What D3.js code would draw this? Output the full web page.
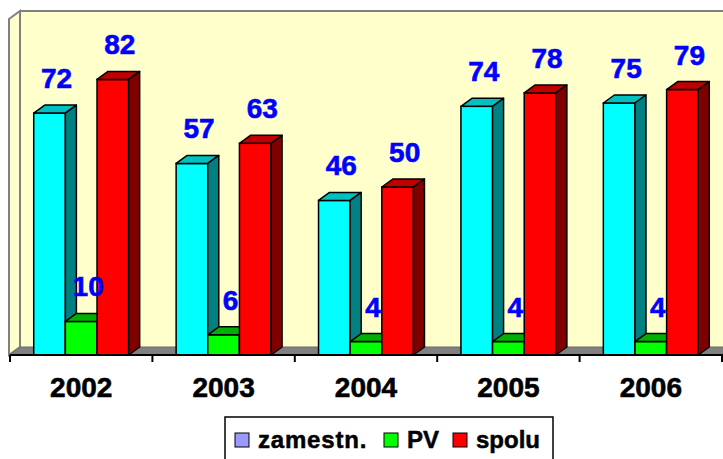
<!DOCTYPE html>
<html>
<head>
<meta charset="utf-8">
<script src="https://cdn.jsdelivr.net/npm/d3@7"></script>
<style>
    body { margin: 0; background: #fff; }
    svg { display: block; font-family: Arial, "Liberation Sans", sans-serif; }
</style>
</head>
<body>
<svg id="chart"></svg>
<script>
// data
const years = ['2002', '2003', '2004', '2005', '2006'];
const seriesNames = ['zamestn.', 'PV', 'spolu'];
const zamestn = [72, 57, 46, 74, 75];
const pv = [10, 6, 4, 4, 4];
const spolu = [82, 63, 50, 78, 79];

const width = 723;
const height = 459;

// colours: front, top, side
const colors = {
    'zamestn.': { front: '#00FFFF', top: '#00C0C0', side: '#008080', legend: '#9999FF' },
    'PV': { front: '#00FF00', top: '#00B000', side: '#008000', legend: '#00FF00' },
    'spolu': { front: '#FF0000', top: '#C00000', side: '#800000', legend: '#FF0000' }
};

// depth offset of the 3d look
const dx = 11;
const dy = 8;

const svg = d3.select('#chart')
    .attr('width', width)
    .attr('height', height);

// scales
const xScale = d3.scaleBand()
    .domain(years)
    .range([10, 722])
    .padding(0);

const xInner = d3.scaleBand()
    .domain(seriesNames)
    .range([0, xScale.bandwidth()])
    .paddingInner(0)
    .paddingOuter(0.75);

const yScale = d3.scaleLinear()
    .domain([0, 100])
    .range([355, 19]);

const y0 = yScale(0);
const yTop = yScale(100);

// walls
const wallG = svg.append('g');

// back wall
wallG.append('rect')
    .attr('x', xScale.range()[0] + dx)
    .attr('y', yTop - dy)
    .attr('width', width)
    .attr('height', y0 - yTop)
    .attr('fill', '#FFFFCC');

wallG.append('line')
    .attr('x1', xScale.range()[0] + dx)
    .attr('x2', width + 5)
    .attr('y1', yTop - dy)
    .attr('y2', yTop - dy)
    .attr('stroke', '#808080')
    .attr('stroke-width', 2);

// left side wall
const x0 = xScale.range()[0] - 1;
wallG.append('polygon')
    .attr('points', [
        [x0, yTop], [x0 + dx, yTop - dy], [x0 + dx, y0 - dy], [x0, y0]
    ].map(p => p.join(',')).join(' '))
    .attr('fill', '#FFFFCC')
    .attr('stroke', '#808080')
    .attr('stroke-width', 2);

// floor
wallG.append('polygon')
    .attr('points', [
        [x0, y0], [x0 + dx, y0 - dy], [width + 20, y0 - dy], [width + 20, y0]
    ].map(p => p.join(',')).join(' '))
    .attr('fill', '#808080')
    .attr('stroke', '#6a6a6a')
    .attr('stroke-width', 1);

// rows for bars
const rows = [];
years.forEach((yr, i) => {
    rows.push({ year: yr, series: 'zamestn.', value: zamestn[i] });
    rows.push({ year: yr, series: 'PV', value: pv[i] });
    rows.push({ year: yr, series: 'spolu', value: spolu[i] });
});

// bars, drawn left to right so neighbours hide sides
const barsG = svg.append('g').attr('class', 'bars');

rows.forEach(d => {
    const bx = xScale(d.year) + xInner(d.series);
    const bw = xInner.bandwidth();
    const by = yScale(d.value);
    const c = colors[d.series];
    const g = barsG.append('g');

    g.append('rect')
        .attr('x', bx)
        .attr('y', by)
        .attr('width', bw)
        .attr('height', y0 - by)
        .attr('fill', c.front)
        .attr('stroke', '#000')
        .attr('stroke-width', 1.5);

    g.append('polygon')
        .attr('points', [
            [bx, by], [bx + dx, by - dy], [bx + bw + dx, by - dy], [bx + bw, by]
        ].map(p => p.join(',')).join(' '))
        .attr('fill', c.top)
        .attr('stroke', '#000')
        .attr('stroke-width', 1.5)
        .attr('stroke-linejoin', 'round');

    g.append('polygon')
        .attr('points', [
            [bx + bw, by], [bx + bw + dx, by - dy], [bx + bw + dx, y0 - dy], [bx + bw, y0]
        ].map(p => p.join(',')).join(' '))
        .attr('fill', c.side)
        .attr('stroke', '#000')
        .attr('stroke-width', 1.5)
        .attr('stroke-linejoin', 'round');
});

// value labels
svg.append('g')
    .selectAll('text')
    .data(rows)
    .join('text')
    .attr('x', d => xScale(d.year) + xInner(d.series) + xInner.bandwidth() / 2 + 7)
    .attr('y', d => yScale(d.value) - 25)
    .attr('text-anchor', 'middle')
    .attr('fill', '#0000FF')
    .attr('stroke', '#0000FF')
    .attr('stroke-width', 0.6)
    .attr('font-size', 28)
    .attr('font-weight', 'bold')
    .text(d => d.value);

// x axis line and boundary ticks
const axisG = svg.append('g');

axisG.append('line')
    .attr('x1', xScale.range()[0])
    .attr('x2', width + 5)
    .attr('y1', y0)
    .attr('y2', y0)
    .attr('stroke', '#000')
    .attr('stroke-width', 2);

axisG.selectAll('.tick-mark')
    .data(years.concat(['end']))
    .join('line')
    .attr('class', 'tick-mark')
    .attr('x1', (d, i) => i < years.length ? xScale(d) : xScale.range()[1])
    .attr('x2', (d, i) => i < years.length ? xScale(d) : xScale.range()[1])
    .attr('y1', y0)
    .attr('y2', y0 + 7)
    .attr('stroke', '#000')
    .attr('stroke-width', 2);

// year labels
const xAxis = d3.axisBottom(xScale)
    .tickSize(0)
    .tickPadding(22);

const xAxisG = svg.append('g')
    .attr('transform', `translate(0, ${y0})`)
    .call(xAxis);

xAxisG.select('.domain').remove();
xAxisG.selectAll('text')
    .attr('font-size', 28)
    .attr('font-weight', 'bold')
    .attr('font-family', 'Arial, "Liberation Sans", sans-serif')
    .attr('fill', '#000')
    .attr('stroke', '#000')
    .attr('stroke-width', 0.6);

// legend
const legendG = svg.append('g').attr('class', 'legend');

legendG.append('rect')
    .attr('x', 225)
    .attr('y', 417)
    .attr('width', 328)
    .attr('height', 60)
    .attr('fill', '#fff')
    .attr('stroke', '#000')
    .attr('stroke-width', 1.5);

const legendX = [235, 384, 453];
seriesNames.forEach((s, i) => {
    legendG.append('rect')
        .attr('x', legendX[i])
        .attr('y', 433)
        .attr('width', 14)
        .attr('height', 14)
        .attr('fill', colors[s].legend)
        .attr('stroke', '#000')
        .attr('stroke-width', 1);

    legendG.append('text')
        .attr('x', legendX[i] + 23)
        .attr('y', 448)
        .attr('font-size', 24)
        .attr('font-weight', 'bold')
        .attr('letter-spacing', i === 0 ? 0.8 : 0)
        .attr('fill', '#000')
        .attr('stroke', '#000')
        .attr('stroke-width', 0.5)
        .text(s);
});
</script>
</body>
</html>
